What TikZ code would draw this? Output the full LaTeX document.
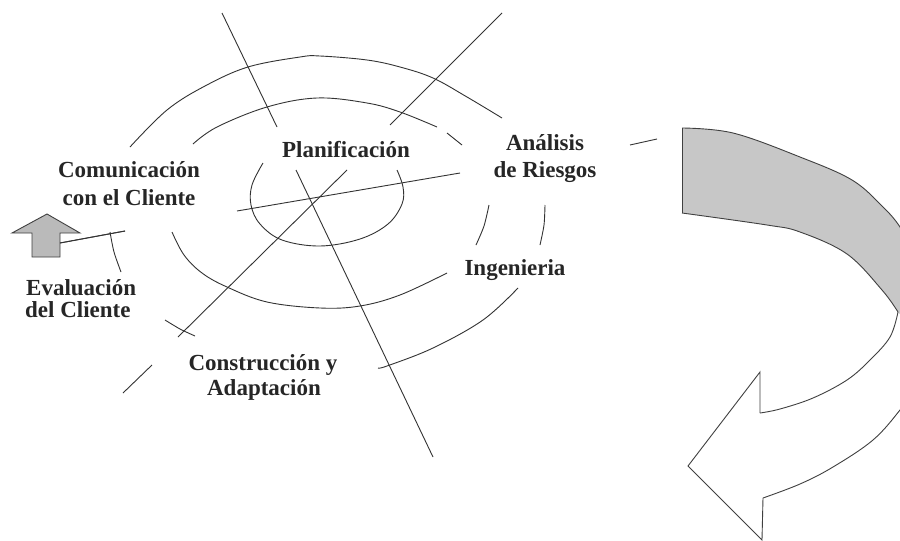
\documentclass[tikz,border=0pt]{standalone}
\usepackage{fontspec}
\setmainfont{Liberation Serif}
\begin{document}
\begin{tikzpicture}[x=1pt,y=-1pt]
\tikzset{
  ln/.style={draw=black!80, line width=0.9pt},
  arr/.style={draw=black!75, line width=0.9pt},
  lbl/.style={font=\fontsize{23}{28}\selectfont\bfseries, text=black!85, inner sep=0pt, anchor=base},
  lblw/.style={lbl, anchor=base west}
}
\useasboundingbox (0,0) rectangle (900,541);
\clip (0,0) rectangle (900,541);
\fill[white] (0,0) rectangle (900,541);

% ---- spiral arcs ----
% outer arc (top)
\draw[ln] plot[smooth, tension=0.6] coordinates {(130,147) (167,110) (205,86) (248,67) (300,57) (320,56) (367,60) (400,67) (433,78) (467,97) (502,118)};
% second arc (top)
\draw[ln] plot[smooth, tension=0.6] coordinates {(193,144) (217,127) (267,107) (317,98) (367,103) (400,112) (437,127)};
\draw[ln] (447,133) -- (462,145);
% right pieces
\draw[ln] plot[smooth] coordinates {(489,205) (484,226) (476,245)};
\draw[ln] plot[smooth] coordinates {(545,205) (544,225) (540,245)};
% inner ellipse
\draw[ln] plot[smooth, tension=0.6] coordinates {(263,163) (252,185) (251,205) (260,224) (282,240) (320,246) (360,239) (388,224) (402,204) (403,187) (397,170)};
% third arc (lower)
\draw[ln] plot[smooth, tension=0.6] coordinates {(172,232) (184,255) (202,273) (227,287) (267,302) (320,308) (360,306) (400,295) (447,273)};
% outer arc (lower right)
\draw[ln] plot[smooth, tension=0.6] coordinates {(518,288) (483,320) (433,348) (387,366) (378,368)};
% outer arc (lower left pieces)
\draw[ln] plot[smooth] coordinates {(165,320) (180,329) (195,336)};
\draw[ln] plot[smooth] coordinates {(110,232) (114,252) (121,272)};

% ---- radial lines ----
\coordinate (a1) at (222,13); \coordinate (a2) at (277,127);
\coordinate (a3) at (296,170); \coordinate (a4) at (433,457);
\draw[ln] (a1) -- (a2);
\draw[ln] (a3) -- (a4);
\coordinate (b1) at (502,13); \coordinate (b2) at (390,125);
\coordinate (b3) at (347,170); \coordinate (b4) at (178,337);
\coordinate (b5) at (152,365); \coordinate (b6) at (123,393);
\draw[ln] (b1) -- (b2);
\draw[ln] (b3) -- (b4);
\draw[ln] (b5) -- (b6);
\coordinate (c1) at (237,211); \coordinate (c2) at (460,173);
\coordinate (c3) at (630,145); \coordinate (c4) at (657,139);
\coordinate (c5) at (60,243); \coordinate (c6) at (125,231);
\draw[ln] (c1) -- (c2);
\draw[ln] (c3) -- (c4);
\draw[ln] (c5) -- (c6);

% ---- small up arrow ----
\draw[arr, fill=black!27] (12,233) -- (47,214) -- (80,233) -- (60,233) -- (60,257) -- (32,257) -- (32,233) -- cycle;
\draw[ln] (c5) -- (c6);

% ---- big curved arrow ----
\fill[black!22] plot[smooth, tension=0.6] coordinates {(682,128) (733,133) (800,157) (852,180) (883,207) (900,227) (915,255)}
  -- (915,330) -- (898,312)
  -- plot[smooth, tension=0.6] coordinates {(898,312) (882,290) (847,254) (800,232) (767,225) (682,213)} -- cycle;
\draw[arr] plot[smooth, tension=0.6] coordinates {(682,128) (733,133) (800,157) (852,180) (883,207) (900,227) (915,255)};
\draw[arr] plot[smooth, tension=0.6] coordinates {(682,213) (767,225) (800,232) (847,254) (882,290) (898,312)};
\draw[arr] (682,128) -- (682,213);
\draw[arr] plot[smooth, tension=0.6] coordinates {(898,312) (890,337) (870,360) (847,380) (813,398) (780,409) (760,413)};
\draw[arr] (760,413) -- (760,372) -- (688,466) -- (762,540) -- (763,498);
\draw[arr] plot[smooth, tension=0.6] coordinates {(763,498) (800,484) (833,467) (873,440) (900,410) (915,388)};

% ---- labels ----
\node[lbl] (com1) at (129,177) {Comunicación};
\node[lbl] (com2) at (129,205) {con el Cliente};
\node[lbl] (plan) at (346,157) {Planificación};
\node[lbl] (ana1) at (545,150) {Análisis};
\node[lbl] (ana2) at (545,177) {de Riesgos};
\node[lbl] (ing) at (515,275) {Ingenieria};
\node[lblw] (eva1) at (26,295) {Evaluación};
\node[lblw] (eva2) at (25,317) {del Cliente};
\node[lbl] (con1) at (263,370) {Construcción y};
\node[lbl] (con2) at (264,395) {Adaptación};
\end{tikzpicture}
\end{document}
